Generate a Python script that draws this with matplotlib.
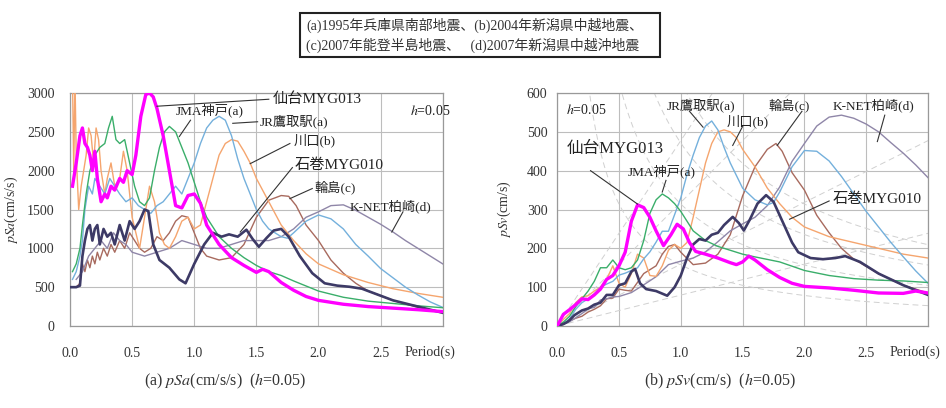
"""
擬似加速度応答 pSa / 擬似速度応答 pSv (h=0.05) の比較図
"""
import numpy as np
import matplotlib
matplotlib.use("Agg")
import matplotlib.pyplot as plt
from matplotlib.patches import Rectangle
from matplotlib.transforms import blended_transform_factory

plt.rcParams["font.family"] = ["Liberation Serif", "Noto Sans CJK JP"]
plt.rcParams["mathtext.fontset"] = "stix"

# ── データ ───────────────────────────────────────────
# (a) pSa (cm/s/s)
sendai_T = [0.02, 0.05, 0.08, 0.10, 0.12, 0.14, 0.16, 0.18, 0.20, 0.22, 0.25, 0.28, 0.30, 0.33,
            0.36, 0.40, 0.43, 0.46, 0.50, 0.53, 0.57, 0.61, 0.64, 0.67, 0.70, 0.75, 0.80, 0.85,
            0.90, 0.95, 1.00, 1.05, 1.10, 1.20, 1.30, 1.40, 1.50, 1.55, 1.60, 1.70, 1.80, 1.90,
            2.00, 2.20, 2.40, 2.60, 2.80, 3.00]
sendai_sa = [1800, 2100, 2450, 2550, 2350, 2300, 2200, 2000, 2250, 1900, 1600, 1700, 1650, 1800,
             1750, 1900, 1850, 2000, 1950, 2200, 2700, 2980, 3000, 2950, 2800, 2450, 2000, 1550,
             1520, 1680, 1700, 1580, 1300, 1050, 880, 780, 690, 730, 700, 560, 460, 380,
             330, 280, 250, 230, 210, 185]

kobe_T = [0.02, 0.05, 0.08, 0.10, 0.13, 0.16, 0.20, 0.24, 0.28, 0.31, 0.34, 0.37, 0.40, 0.44,
          0.48, 0.52, 0.56, 0.60, 0.64, 0.68, 0.72, 0.76, 0.80, 0.85, 0.90, 0.95, 1.00, 1.05,
          1.10, 1.20, 1.30, 1.40, 1.50, 1.60, 1.70, 1.80, 2.00, 2.20, 2.40, 2.60, 2.80, 3.00]
kobe_sa = [700, 800, 1000, 1300, 1700, 2000, 2200, 2300, 2350, 2550, 2700, 2400, 2350, 2400,
           2100, 1800, 1600, 1550, 1650, 2000, 2300, 2500, 2570, 2500, 2300, 2100, 1850, 1600,
           1400, 1150, 1000, 880, 780, 700, 650, 580, 450, 370, 320, 290, 260, 235]

takatori_T = [0.02, 0.05, 0.08, 0.10, 0.12, 0.15, 0.18, 0.20, 0.24, 0.28, 0.32, 0.36, 0.40, 0.45,
              0.50, 0.55, 0.60, 0.65, 0.70, 0.75, 0.80, 0.85, 0.90, 0.95, 1.00, 1.05, 1.10, 1.15,
              1.20, 1.25, 1.30, 1.35, 1.40, 1.45, 1.50, 1.55, 1.60, 1.70, 1.75, 1.80, 1.90, 2.00,
              2.10, 2.20, 2.30, 2.40, 2.50, 2.60, 2.70, 2.80, 2.90, 3.00]
takatori_sa = [600, 700, 900, 1100, 1500, 1800, 1700, 1900, 1800, 1700, 1900, 1800, 1700, 1600,
               1650, 1550, 1500, 1450, 1550, 1600, 1700, 1800, 1700, 1900, 2100, 2350, 2550, 2650,
               2700, 2650, 2450, 2150, 1900, 1700, 1500, 1350, 1250, 1150, 1130, 1200, 1350, 1430,
               1380, 1250, 1050, 900, 740, 620, 500, 400, 310, 240]

kawaguchi_T = [0.02, 0.03, 0.04, 0.05, 0.07, 0.09, 0.11, 0.13, 0.15, 0.17, 0.19, 0.21, 0.23, 0.25,
               0.28, 0.30, 0.33, 0.36, 0.40, 0.43, 0.46, 0.50, 0.53, 0.56, 0.60, 0.64, 0.68, 0.72,
               0.76, 0.80, 0.85, 0.90, 0.95, 1.00, 1.05, 1.10, 1.15, 1.20, 1.25, 1.30, 1.35, 1.40,
               1.45, 1.50, 1.60, 1.70, 1.80, 1.90, 2.00, 2.20, 2.40, 2.60, 2.80, 3.00]
kawaguchi_sa = [3200, 2000, 3200, 2200, 1500, 1800, 2000, 2200, 2550, 2450, 2100, 2550, 2400, 2000,
                1700, 1900, 2100, 1800, 1900, 2250, 2000, 1400, 1200, 1000, 1400, 1800, 1600, 1200,
                1050, 1000, 1150, 1350, 1400, 1250, 1300, 1600, 1900, 2200, 2350, 2400, 2380, 2250,
                2100, 1900, 1600, 1300, 1100, 930, 800, 660, 560, 480, 420, 370]

ishinomaki_T = [0.00, 0.05, 0.08, 0.10, 0.12, 0.14, 0.16, 0.18, 0.20, 0.22, 0.24, 0.27, 0.30, 0.33,
                0.36, 0.40, 0.44, 0.48, 0.52, 0.56, 0.60, 0.63, 0.67, 0.72, 0.80, 0.88, 0.93, 1.00,
                1.08, 1.15, 1.22, 1.28, 1.35, 1.42, 1.47, 1.52, 1.58, 1.64, 1.70, 1.76, 1.85, 1.95,
                2.05, 2.15, 2.25, 2.35, 2.45, 2.60, 2.80, 3.00]
ishinomaki_sa = [500, 500, 520, 900, 1100, 1250, 1300, 1100, 1250, 1300, 1050, 1250, 1150, 1200,
                 1050, 1300, 1100, 1350, 1250, 1350, 1500, 1480, 1050, 850, 750, 600, 550, 800,
                 1050, 1200, 1150, 1180, 1150, 1240, 1120, 1020, 1130, 1230, 1250, 1150, 900, 680,
                 550, 520, 505, 480, 420, 330, 250, 170]

wajima_T = [0.05, 0.08, 0.10, 0.12, 0.14, 0.16, 0.18, 0.20, 0.22, 0.24, 0.27, 0.30, 0.33, 0.36,
            0.40, 0.44, 0.48, 0.52, 0.56, 0.60, 0.65, 0.70, 0.75, 0.80, 0.85, 0.90, 0.95, 1.00,
            1.05, 1.10, 1.20, 1.30, 1.40, 1.50, 1.60, 1.70, 1.76, 1.82, 1.90, 2.00, 2.10, 2.20,
            2.30, 2.40, 2.60, 2.80, 3.00]
wajima_sa = [500, 550, 800, 700, 850, 750, 900, 800, 950, 850, 1000, 900, 1050, 950,
             1100, 1000, 1200, 1100, 1000, 950, 1000, 1150, 1100, 1200, 1350, 1420, 1400, 1200,
             1000, 900, 850, 880, 1050, 1400, 1620, 1680, 1670, 1550, 1300, 1100, 850, 680,
             550, 450, 330, 240, 180]

knet_T = [0.05, 0.10, 0.15, 0.20, 0.25, 0.30, 0.35, 0.40, 0.45, 0.50, 0.60, 0.70, 0.80, 0.90,
          1.00, 1.10, 1.20, 1.30, 1.40, 1.50, 1.60, 1.70, 1.80, 1.90, 2.00, 2.10, 2.20, 2.30,
          2.40, 2.50, 2.60, 2.70, 2.80, 2.90, 3.00]
knet_sa = [600, 700, 900, 1000, 1100, 1000, 1200, 1100, 1050, 950, 900, 950, 1000, 1100,
           1050, 1000, 1000, 1050, 1100, 1100, 1100, 1150, 1250, 1400, 1470, 1550, 1560, 1490,
           1400, 1310, 1210, 1100, 1000, 900, 800]

# (b) pSv (cm/s)
sendai_sv_T = [0.0, 0.05, 0.1, 0.15, 0.2, 0.25, 0.3, 0.35, 0.4, 0.45, 0.5, 0.55, 0.6, 0.65, 0.7,
               0.75, 0.8, 0.86, 0.92, 0.97, 1.02, 1.07, 1.12, 1.2, 1.3, 1.4, 1.45, 1.5, 1.55, 1.6,
               1.7, 1.8, 1.9, 2.0, 2.2, 2.4, 2.6, 2.8, 2.9, 3.0]
sendai_sv = [0, 30, 42, 55, 70, 68, 80, 95, 120, 130, 155, 190, 270, 312, 305,
             280, 245, 207, 235, 262, 250, 215, 192, 185, 175, 163, 158, 165, 180, 170,
             145, 125, 110, 102, 98, 92, 85, 84, 90, 85]

kobe_sv_T = [0.0, 0.05, 0.1, 0.15, 0.2, 0.25, 0.3, 0.35, 0.4, 0.45, 0.5, 0.55, 0.6, 0.65, 0.7,
             0.75, 0.8, 0.85, 0.9, 0.95, 1.0, 1.1, 1.2, 1.3, 1.4, 1.5, 1.6, 1.8, 2.0, 2.2, 2.4,
             2.6, 2.8, 3.0]
kobe_sv = [0, 10, 25, 50, 70, 90, 115, 150, 150, 170, 150, 145, 150, 170, 220,
           290, 325, 340, 330, 315, 295, 245, 220, 205, 195, 185, 178, 165, 143, 130, 122,
           118, 116, 112]

takatori_sv_T = [0.0, 0.05, 0.1, 0.15, 0.2, 0.25, 0.3, 0.35, 0.4, 0.45, 0.5, 0.55, 0.6, 0.65,
                 0.7, 0.75, 0.8, 0.85, 0.9, 0.95, 1.0, 1.05, 1.1, 1.15, 1.2, 1.25, 1.3, 1.35, 1.4,
                 1.5, 1.6, 1.7, 1.75, 1.8, 1.9, 2.0, 2.1, 2.2, 2.3, 2.4, 2.5, 2.6, 2.7, 2.8, 2.9,
                 3.0]
takatori_sv = [0, 6, 18, 43, 60, 70, 82, 100, 108, 115, 131, 136, 143, 150,
               173, 191, 216, 244, 244, 287, 330, 390, 440, 485, 515, 528, 505, 460, 420,
               355, 325, 312, 318, 345, 410, 452, 450, 425, 385, 340, 295, 255, 215, 178, 142,
               110]

kawaguchi_sv_T = [0.0, 0.05, 0.1, 0.15, 0.2, 0.25, 0.3, 0.35, 0.4, 0.45, 0.5, 0.55, 0.6, 0.65,
                  0.7, 0.75, 0.8, 0.85, 0.9, 0.95, 1.0, 1.05, 1.1, 1.15, 1.2, 1.25, 1.3, 1.35,
                  1.4, 1.45, 1.5, 1.6, 1.7, 1.8, 1.9, 2.0, 2.2, 2.4, 2.6, 2.8, 3.0]
kawaguchi_sv = [0, 17, 32, 60, 75, 78, 90, 100, 120, 155, 110, 100, 135, 185,
                175, 130, 128, 155, 195, 210, 200, 215, 280, 350, 420, 470, 500, 505,
                500, 485, 455, 410, 355, 315, 280, 255, 230, 215, 200, 185, 175]

ishinomaki_sv_T = [0.0, 0.05, 0.08, 0.1, 0.14, 0.2, 0.25, 0.3, 0.35, 0.4, 0.45, 0.5, 0.55, 0.6,
                   0.63, 0.67, 0.72, 0.8, 0.89, 0.95, 1.0, 1.05, 1.1, 1.15, 1.2, 1.25, 1.3, 1.35,
                   1.42, 1.47, 1.51, 1.56, 1.62, 1.69, 1.75, 1.8, 1.85, 1.9, 1.95, 2.05, 2.15,
                   2.25, 2.33, 2.45, 2.6, 2.8, 3.0]
ishinomaki_sv = [0, 5, 10, 15, 28, 40, 45, 55, 60, 80, 80, 105, 110, 140,
                 147, 110, 95, 90, 78, 100, 130, 175, 210, 224, 220, 235, 240, 260,
                 281, 265, 246, 275, 315, 337, 320, 285, 250, 215, 190, 175, 172,
                 175, 180, 165, 135, 105, 80]

wajima_sv_T = [0.0, 0.05, 0.1, 0.15, 0.2, 0.25, 0.3, 0.35, 0.4, 0.45, 0.5, 0.55, 0.6, 0.7, 0.8,
               0.85, 0.9, 0.95, 1.0, 1.1, 1.2, 1.3, 1.4, 1.5, 1.6, 1.7, 1.77, 1.82, 1.9, 2.0,
               2.1, 2.2, 2.3, 2.4, 2.6, 2.8, 3.0]
wajima_sv = [0, 4, 13, 20, 25, 36, 43, 52, 70, 72, 95, 92, 90, 135, 155,
             185, 205, 210, 190, 158, 162, 185, 235, 335, 410, 455, 470, 450, 395, 350,
             285, 240, 200, 172, 135, 105, 85]

knet_sv_T = [0.0, 0.05, 0.1, 0.15, 0.2, 0.25, 0.3, 0.35, 0.4, 0.45, 0.5, 0.6, 0.7, 0.8, 0.9,
             1.0, 1.1, 1.2, 1.3, 1.4, 1.5, 1.6, 1.7, 1.8, 1.9, 2.0, 2.1, 2.2, 2.3, 2.4, 2.5,
             2.6, 2.7, 2.8, 2.9, 3.0]
knet_sv = [0, 5, 11, 21, 32, 44, 48, 67, 70, 75, 76, 86, 106, 127, 158,
           167, 175, 191, 217, 245, 263, 280, 310, 358, 424, 470, 515, 538, 543, 535, 520,
           500, 472, 445, 415, 382]

# 補助線 (一定 pSa / 一定 Sd)
guide_sa = [500, 1000, 2000, 3000]   # cm/s/s
guide_sd = [25, 50, 75, 100]         # cm

# ── スタイル ───────────────────────────────────────────────
SERIES = [
    # name, color, lw, (T, sa), (T, sv)
    ("wajima", "#a86a5e", 1.0, (wajima_T, wajima_sa), (wajima_sv_T, wajima_sv)),
    ("knet", "#8f86a8", 1.0, (knet_T, knet_sa), (knet_sv_T, knet_sv)),
    ("kawaguchi", "#f5a56e", 1.0, (kawaguchi_T, kawaguchi_sa), (kawaguchi_sv_T, kawaguchi_sv)),
    ("takatori", "#74b0dc", 1.0, (takatori_T, takatori_sa), (takatori_sv_T, takatori_sv)),
    ("kobe", "#3aae6a", 1.0, (kobe_T, kobe_sa), (kobe_sv_T, kobe_sv)),
    ("ishinomaki", "#3d3a66", 1.9, (ishinomaki_T, ishinomaki_sa), (ishinomaki_sv_T, ishinomaki_sv)),
    ("sendai", "#ff00ff", 2.4, (sendai_T, sendai_sa), (sendai_sv_T, sendai_sv)),
]

LEADER = dict(color="#333333", lw=0.8)


def setup_axes(ax, ymax, ystep, ylabel, ypad, label_x):
    ax.set_xlim(0, 3.0)
    ax.set_ylim(0, ymax)
    ax.set_xticks(np.arange(0, 3.01, 0.5))
    ax.set_xticklabels(["0.0", "0.5", "1.0", "1.5", "2.0", "2.5", ""])
    ax.set_yticks(np.arange(0, ymax + 1, ystep))
    ax.tick_params(axis="both", length=0, labelsize=10, colors="#333333")
    ax.tick_params(axis="x", pad=15)
    ax.tick_params(axis="y", pad=ypad)
    ax.grid(True, color="#bdbdbd", lw=0.8)
    ax.set_axisbelow(True)
    for s in ax.spines.values():
        s.set_color("#999999")
        s.set_linewidth(0.9)
    ax.set_ylabel(ylabel, fontsize=10, color="#333333")
    ax.yaxis.set_label_coords(label_x, 0.5)
    trans = blended_transform_factory(ax.transData, ax.transAxes)
    ax.text(2.69, -0.112, "Period(s)", transform=trans, ha="left", va="center",
            fontsize=10, color="#333333")


def label(ax, text, xy_text, line, size=9.5):
    (x0, y0), (x1, y1) = line
    ax.plot([x0, x1], [y0, y1], **LEADER, zorder=6)
    ax.text(*xy_text, text, fontsize=size, ha="left", va="center", color="#222222", zorder=7)


fig = plt.figure(figsize=(9.46, 4.08), dpi=100)
ax1 = fig.add_axes([0.074, 0.201, 0.394, 0.571])
ax2 = fig.add_axes([0.589, 0.201, 0.392, 0.571])

# (b) の補助線
T_g = np.linspace(0.01, 3.0, 300)
for sa in guide_sa:
    ax2.plot(T_g, sa * T_g / (2 * np.pi), ls=(0, (6, 4)), color="#d0d0d0", lw=0.7, zorder=1)
for sd in guide_sd:
    ax2.plot(T_g, 2 * np.pi * sd / T_g, ls=(0, (6, 4)), color="#d0d0d0", lw=0.7, zorder=1)

for name, color, lw, (T_a, sa), (T_v, sv) in SERIES:
    ax1.plot(T_a, sa, color=color, lw=lw, zorder=3)
    ax2.plot(T_v, sv, color=color, lw=lw, zorder=3)

setup_axes(ax1, 3000, 500, "$pSa$(cm/s/s)", 11, -0.135)
setup_axes(ax2, 600, 100, "$pSv$(cm/s)", 7, -0.12)

# ── ラベル (a) ─────────────────────────────────────────────
label(ax1, "仙台MYG013", (1.63, 2920), ((0.70, 2830), (1.60, 2920)), size=11)
label(ax1, "JMA神戸(a)", (0.85, 2770), ((0.88, 2440), (0.97, 2650)))
label(ax1, "JR鷹取駅(a)", (1.53, 2630), ((1.31, 2610), (1.51, 2630)))
label(ax1, "川口(b)", (1.80, 2390), ((1.45, 2090), (1.77, 2350)))
label(ax1, "石巻MYG010", (1.81, 2065), ((1.37, 1210), (1.79, 2040)), size=11)
label(ax1, "輪島(c)", (1.97, 1790), ((1.77, 1640), (1.95, 1770)))
label(ax1, "K-NET柏崎(d)", (2.25, 1545), ((2.59, 1210), (2.68, 1470)))
ax1.text(2.74, 2770, "$h$=0.05", fontsize=10, ha="left", va="center", color="#222222")

# ── ラベル (b) ─────────────────────────────────────────────
label(ax2, "仙台MYG013", (0.08, 457), ((0.27, 400), (0.65, 314)), size=12)
label(ax2, "JMA神戸(a)", (0.57, 397), ((0.85, 345), (0.88, 375)))
label(ax2, "JR鷹取駅(a)", (0.89, 569), ((1.18, 512), (1.07, 553)))
label(ax2, "川口(b)", (1.37, 527), ((1.42, 465), (1.50, 514)))
label(ax2, "輪島(c)", (1.71, 569), ((1.78, 465), (1.98, 553)))
label(ax2, "K-NET柏崎(d)", (2.23, 569), ((2.59, 475), (2.65, 543)))
label(ax2, "石巻MYG010", (2.23, 327), ((1.88, 275), (2.20, 322)), size=11)
ax2.text(0.07, 556, "$h$=0.05", fontsize=10, ha="left", va="center", color="#222222")

# ── 凡例ボックス (上部) ─────────────────────────────────────
W, H = 946, 408
fig.patches.append(Rectangle((300 / W, 1 - 57 / H), 360 / W, 44 / H, transform=fig.transFigure,
                             fill=False, edgecolor="#222222", lw=1.5))
fig.text(306 / W, 1 - 25 / H, "(a)1995年兵庫県南部地震、(b)2004年新潟県中越地震、",
         fontsize=10, ha="left", va="center", color="#333333")
fig.text(306 / W, 1 - 45 / H, "(c)2007年能登半島地震、   (d)2007年新潟県中越沖地震",
         fontsize=10, ha="left", va="center", color="#333333")

# ── キャプション ───────────────────────────────────────────
fig.text(225 / W, 1 - 381 / H, "(a) $pSa$(cm/s/s)  ($h$=0.05)", fontsize=11.5,
         ha="center", va="center", color="#333333")
fig.text(720 / W, 1 - 381 / H, "(b) $pSv$(cm/s)  ($h$=0.05)", fontsize=11.5,
         ha="center", va="center", color="#333333")

fig.savefig("out.png", dpi=100)
